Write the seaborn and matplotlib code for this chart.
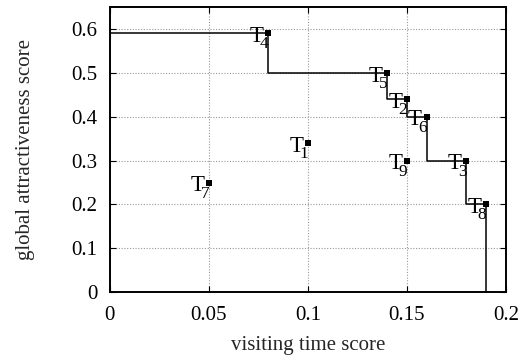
import matplotlib
matplotlib.use("Agg")
import matplotlib.pyplot as plt
import seaborn as sns
import pandas as pd

# data
names = ["T1", "T2", "T3", "T4", "T5", "T6", "T7", "T8", "T9"]
visit_time = [0.10, 0.15, 0.18, 0.08, 0.14, 0.16, 0.05, 0.19, 0.15]
attract = [0.34, 0.44, 0.30, 0.59, 0.50, 0.40, 0.25, 0.20, 0.30]
front = ["T4", "T5", "T2", "T6", "T3", "T8"]
x_ticks = [0, 0.05, 0.1, 0.15, 0.2]
x_tick_labels = ["0", "0.05", "0.1", "0.15", "0.2"]
y_ticks = [0, 0.1, 0.2, 0.3, 0.4, 0.5, 0.6]
y_tick_labels = ["0", "0.1", "0.2", "0.3", "0.4", "0.5", "0.6"]

sns.set_theme(style="ticks")
plt.rcParams["font.family"] = ["Liberation Serif", "DejaVu Serif"]

df = pd.DataFrame({"name": names, "x": visit_time, "y": attract})

fig = plt.figure(figsize=(5.26, 3.58), dpi=100)
ax = fig.add_axes([0.209, 0.184, 0.753, 0.796])

# step front built from the front points
fd = df.set_index("name").loc[front].sort_values("x")
sx = [0.0] + list(fd["x"])
sy = list(fd["y"]) + [0.0]
step_df = pd.DataFrame({"x": sx, "y": sy})
sns.lineplot(data=step_df, x="x", y="y", ax=ax, drawstyle="steps-post",
             sort=False, estimator=None, color="black", linewidth=1.1)

sns.scatterplot(data=df, x="x", y="y", ax=ax, marker="s", s=22,
                color="black", edgecolor="black", linewidth=0, zorder=5)

for n, xv, yv in zip(names, visit_time, attract):
    ax.annotate("T", (xv, yv), xytext=(-3.4, -6.2),
                textcoords="offset points", ha="right", va="baseline",
                fontsize=16.5, color="black", zorder=6)
    ax.annotate(n[1:], (xv, yv), xytext=(-3.0, -10.8),
                textcoords="offset points", ha="center", va="baseline",
                fontsize=12.5, color="black", zorder=6)

ax.set_xlim(0, 0.2)
ax.set_ylim(0, 0.65)
ax.set_xticks(x_ticks)
ax.set_xticklabels(x_tick_labels)
ax.set_yticks(y_ticks)
ax.set_yticklabels(y_tick_labels)
ax.grid(True, color="#999999", linestyle=(0, (1, 1.5)), linewidth=0.8)
ax.tick_params(direction="in", length=4, width=0.8, top=True, right=True,
               labelsize=15, colors="black")
ax.tick_params(axis="y", pad=9)
ax.tick_params(axis="x", pad=10)
for sp in ax.spines.values():
    sp.set_visible(True)
    sp.set_linewidth(1.4)
    sp.set_color("black")
ax.set_xlabel("visiting time score", fontsize=15, labelpad=8)
ax.set_ylabel("global attractiveness score", fontsize=15, labelpad=26)

fig.savefig("out.png", dpi=100)
